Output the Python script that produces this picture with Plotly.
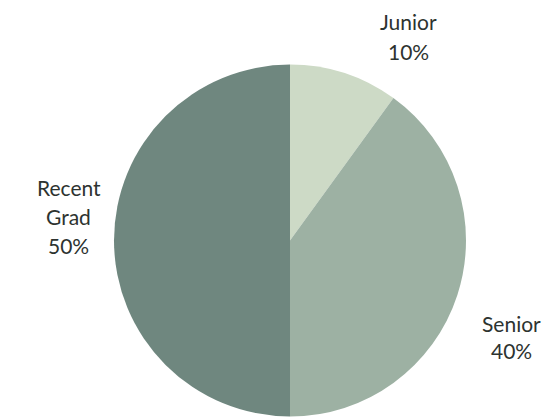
import plotly.graph_objects as go

labels = ["Junior", "Senior", "Recent Grad"]
label_lines = [["Junior"], ["Senior"], ["Recent", "Grad"]]
values = [10, 40, 50]
colors = ["#cddac6", "#9db1a3", "#6f877f"]

W, H = 551, 417
OFF = 8  # page body margin
# per-line text centers in pixels (from top-left of the window)
line_pos = [
    [(408, 22.5), (408, 52.5)],
    [(511, 324.5), (511, 351.5)],
    [(68.5, 188.5), (68.5, 217.5), (68.5, 247)],
]

total = sum(values)
fig = go.Figure(go.Pie(
    labels=labels,
    values=values,
    sort=False,
    direction="clockwise",
    rotation=0,
    marker=dict(colors=colors, line=dict(width=0)),
    textinfo="none",
    hoverinfo="label+percent",
    showlegend=False,
    domain=dict(x=[(113 - OFF) / W, (467 - OFF) / W],
                y=[(H - 416.5 + OFF) / H, (H - 64.5 + OFF) / H]),
))

annotations = []
for lines, v, pos in zip(label_lines, values, line_pos):
    pct = round(100 * v / total)
    texts = lines + [f"{pct}%"]
    for t, (px, py) in zip(texts, pos):
        annotations.append(dict(
            text=t,
            x=(px - OFF) / W, y=1 - (py - 1.5 - OFF) / H,
            xref="paper", yref="paper",
            xanchor="center", yanchor="middle", showarrow=False,
            font=dict(family="Lato", size=21, color="#2d3330"),
        ))

fig.update_layout(
    width=W, height=H,
    margin=dict(l=0, r=0, t=0, b=0),
    paper_bgcolor="white",
    plot_bgcolor="white",
    annotations=annotations,
)

fig.write_html("out.html")
